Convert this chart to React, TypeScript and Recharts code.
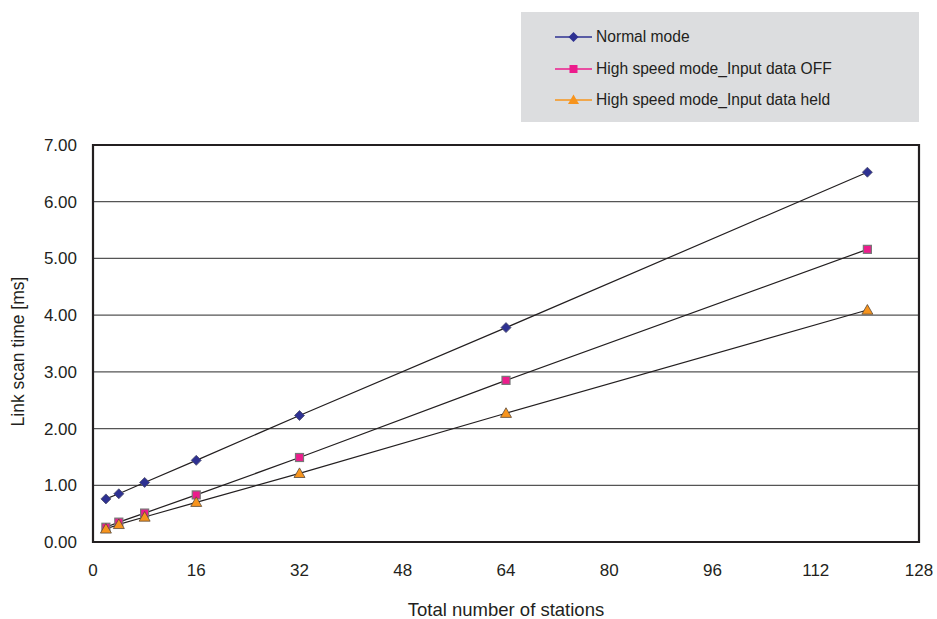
import React from 'react';
import {
  LineChart,
  Line,
  XAxis,
  YAxis,
  CartesianGrid,
  ReferenceArea,
} from 'recharts';

const stations = [2, 4, 8, 16, 32, 64, 120];
const normalMode = [0.76, 0.85, 1.05, 1.44, 2.23, 3.78, 6.52];
const inputOff = [0.26, 0.35, 0.51, 0.83, 1.49, 2.85, 5.16];
const inputHeld = [0.23, 0.31, 0.44, 0.7, 1.21, 2.27, 4.09];
const xTicks = [0, 16, 32, 48, 64, 80, 96, 112, 128];
const yTicks = [0, 1, 2, 3, 4, 5, 6, 7];

const SERIES = [
  { key: 'normal', label: 'Normal mode', color: '#2e3192', shape: 'diamond' },
  { key: 'off', label: 'High speed mode_Input data OFF', color: '#ec1c8c', shape: 'square' },
  { key: 'held', label: 'High speed mode_Input data held', color: '#f7941d', shape: 'triangle' },
];

const data = stations.map((s, i) => ({
  stations: s,
  normal: normalMode[i],
  off: inputOff[i],
  held: inputHeld[i],
}));

const FONT = '"Liberation Sans", Arial, sans-serif';
const INK = '#231f20';

function Marker({ cx, cy, shape, color }: any) {
  if (cx == null || cy == null) return null;
  if (shape === 'diamond') {
    const r = 5;
    return (
      <polygon
        points={`${cx},${cy - r} ${cx + r},${cy} ${cx},${cy + r} ${cx - r},${cy}`}
        fill={color}
        stroke="#4d4d6a"
        strokeWidth={0.8}
      />
    );
  }
  if (shape === 'square') {
    const r = 4;
    return (
      <rect x={cx - r} y={cy - r} width={r * 2} height={r * 2} fill={color} stroke="#777" strokeWidth={1.2} />
    );
  }
  const r = 5.5;
  return (
    <polygon
      points={`${cx},${cy - r} ${cx + r},${cy + r * 0.75} ${cx - r},${cy + r * 0.75}`}
      fill={color}
      stroke="#5a4a3a"
      strokeWidth={0.8}
    />
  );
}

function LegendIcon({ shape, color }: { shape: string; color: string }) {
  return (
    <svg width={37} height={12} style={{ display: 'block' }}>
      <line x1={0} y1={6} x2={37} y2={6} stroke={color} strokeWidth={1.5} />
      {shape === 'diamond' && <polygon points="18.5,1 23.5,6 18.5,11 13.5,6" fill={color} />}
      {shape === 'square' && <rect x={14.5} y={2} width={8} height={8} fill={color} />}
      {shape === 'triangle' && <polygon points="18.5,0.5 24,10 13,10" fill={color} />}
    </svg>
  );
}

function YTitle({ viewBox }: any) {
  const x = viewBox.x + 18;
  const y = viewBox.y + viewBox.height / 2 + 8;
  return (
    <text
      x={x}
      y={y}
      transform={`rotate(-90 ${x} ${y})`}
      textAnchor="middle"
      dominantBaseline="central"
      fill={INK}
      fontSize={17.5}
      fontFamily={FONT}
    >
      Link scan time [ms]
    </text>
  );
}

export default function App() {
  return (
    <div style={{ position: 'relative', width: 937, height: 619, fontFamily: FONT }}>
      <style>{'html, body { margin: 0; padding: 0; overflow: hidden; }'}</style>
      <div
        style={{
          position: 'absolute',
          left: 521,
          top: 12,
          width: 398,
          height: 110,
          background: '#dcdddf',
        }}
      >
        {SERIES.map((s, i) => (
          <div
            key={s.key}
            style={{
              position: 'absolute',
              left: 34,
              top: 16 + i * 31.5,
              height: 18,
              display: 'flex',
              alignItems: 'center',
              gap: 4,
              fontSize: 15.6,
              color: INK,
              whiteSpace: 'nowrap',
            }}
          >
            <LegendIcon shape={s.shape} color={s.color} />
            <span>{s.label}</span>
          </div>
        ))}
      </div>
      <LineChart
        width={937}
        height={619}
        data={data}
        margin={{ top: 145, right: 18, bottom: 0, left: 0 }}
        style={{ position: 'absolute', left: 0, top: 0 }}
      >
        <CartesianGrid vertical={false} stroke="#555" strokeWidth={1.3} />
        <XAxis
          dataKey="stations"
          type="number"
          domain={[0, 128]}
          ticks={xTicks}
          height={77}
          axisLine={false}
          tickLine={false}
          tickSize={0}
          tickMargin={22}
          tick={{ fill: INK, fontSize: 17, fontFamily: FONT }}
          label={{
            value: 'Total number of stations',
            position: 'insideBottom',
            offset: 3,
            fill: INK,
            fontSize: 18.5,
            fontFamily: FONT,
          }}
        />
        <YAxis
          type="number"
          domain={[0, 7]}
          ticks={yTicks}
          width={93}
          axisLine={false}
          tickLine={false}
          tickSize={0}
          tickMargin={16}
          tickFormatter={(v: number) => v.toFixed(2)}
          tick={{ fill: INK, fontSize: 17, fontFamily: FONT }}
          label={{ content: (p: any) => <YTitle viewBox={p.viewBox} /> }}
        />
        <ReferenceArea x1={0} x2={128} y1={0} y2={7} fill="none" stroke={INK} strokeWidth={2.2} ifOverflow="visible" />
        {SERIES.map((s) => (
          <Line
            key={s.key}
            dataKey={s.key}
            type="linear"
            stroke={INK}
            strokeWidth={1.2}
            isAnimationActive={false}
            dot={(p: any) => <Marker key={`${s.key}-${p.index}`} cx={p.cx} cy={p.cy} shape={s.shape} color={s.color} />}
            activeDot={false}
          />
        ))}
      </LineChart>
    </div>
  );
}
